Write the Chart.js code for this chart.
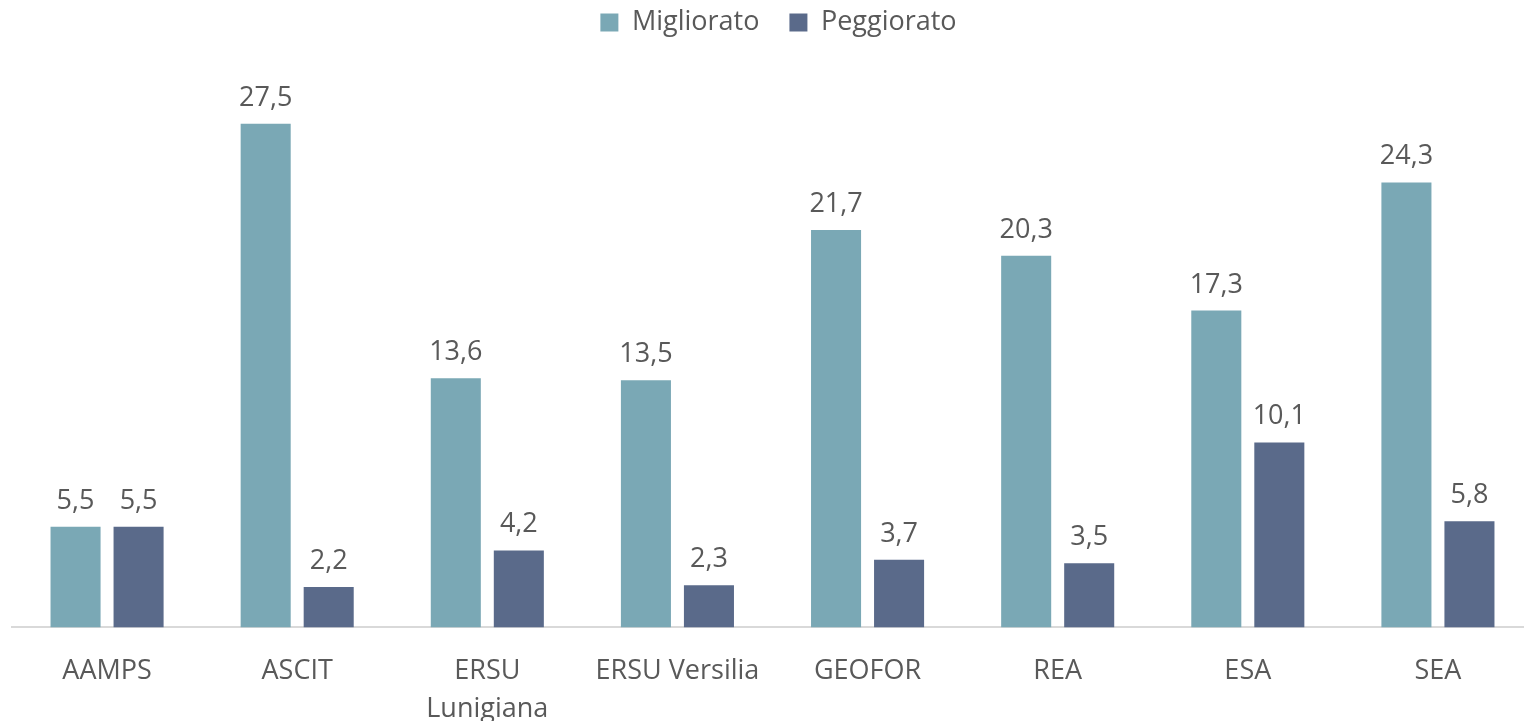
<!DOCTYPE html>
<html>
<head>
<meta charset="utf-8">
<script src="https://cdn.jsdelivr.net/npm/chart.js@4.4.0/dist/chart.umd.min.js"></script>
<style>
  html, body { margin:0; padding:0; background:#fff; overflow:hidden; }
  #wrap { width:1533px; height:721px; }
</style>
</head>
<body>
<div id="wrap"><canvas id="c"></canvas></div>
<script>
  // dati
  const categories = ['AAMPS', 'ASCIT', ['ERSU', 'Lunigiana'], 'ERSU Versilia', 'GEOFOR', 'REA', 'ESA', 'SEA'];
  const migliorato = [5.5, 27.5, 13.6, 13.5, 21.7, 20.3, 17.3, 24.3];
  const peggiorato = [5.5, 2.2, 4.2, 2.3, 3.7, 3.5, 10.1, 5.8];
  const seriesNames = ['Migliorato', 'Peggiorato'];

  const FONT = '"Open Sans", "Liberation Sans", sans-serif';
  const TEXT = '#595959';

  const fmt = v => v.toFixed(1).replace('.', ',');

  // etichette sopra le barre
  const valueLabels = {
    id: 'valueLabels',
    afterDatasetsDraw(chart){
      const ctx = chart.ctx;
      ctx.save();
      ctx.font = '27px ' + FONT;
      ctx.fillStyle = TEXT;
      ctx.textAlign = 'center';
      ctx.textBaseline = 'alphabetic';
      chart.data.datasets.forEach((ds, i) => {
        const meta = chart.getDatasetMeta(i);
        meta.data.forEach((bar, j) => {
          ctx.fillText(fmt(ds.data[j]), bar.x, bar.y - 18);
        });
      });
      ctx.restore();
    }
  };

  // altezza fissa della legenda + piccolo spostamento a destra
  const legendTweak = {
    id: 'legendTweak',
    beforeInit(chart){
      const fit = chart.legend.fit;
      chart.legend.fit = function(){
        fit.call(this);
        this.height = 99;
      };
    },
    afterLayout(chart){
      chart.legend.left += 6;
      chart.legend.right += 6;
    }
  };

  new Chart(document.getElementById('c'), {
    type: 'bar',
    data: {
      labels: categories,
      datasets: [
        { label: seriesNames[0], data: migliorato, backgroundColor: '#7aa8b5', borderWidth: 0 },
        { label: seriesNames[1], data: peggiorato, backgroundColor: '#5a6a8a', borderWidth: 0 }
      ]
    },
    options: {
      responsive: true,
      maintainAspectRatio: false,
      animation: false,
      categoryPercentage: 0.663,
      barPercentage: 0.794,
      layout: { padding: { left: 12, right: 0, top: -21, bottom: -24 } },
      plugins: {
        legend: {
          position: 'top',
          labels: {
            font: { family: FONT, size: 27 },
            color: TEXT,
            boxWidth: 18,
            boxHeight: 18,
            padding: 30
          }
        },
        tooltip: { enabled: false }
      },
      scales: {
        x: {
          grid: { display: false },
          border: { display: true, color: '#d9d9d9', width: 2 },
          ticks: { font: { family: FONT, size: 27, lineHeight: 1.4 }, color: TEXT, padding: 17, maxRotation: 0, autoSkip: false }
        },
        y: {
          display: false,
          min: 0,
          max: 30
        }
      }
    },
    plugins: [valueLabels, legendTweak]
  });
</script>
</body>
</html>
